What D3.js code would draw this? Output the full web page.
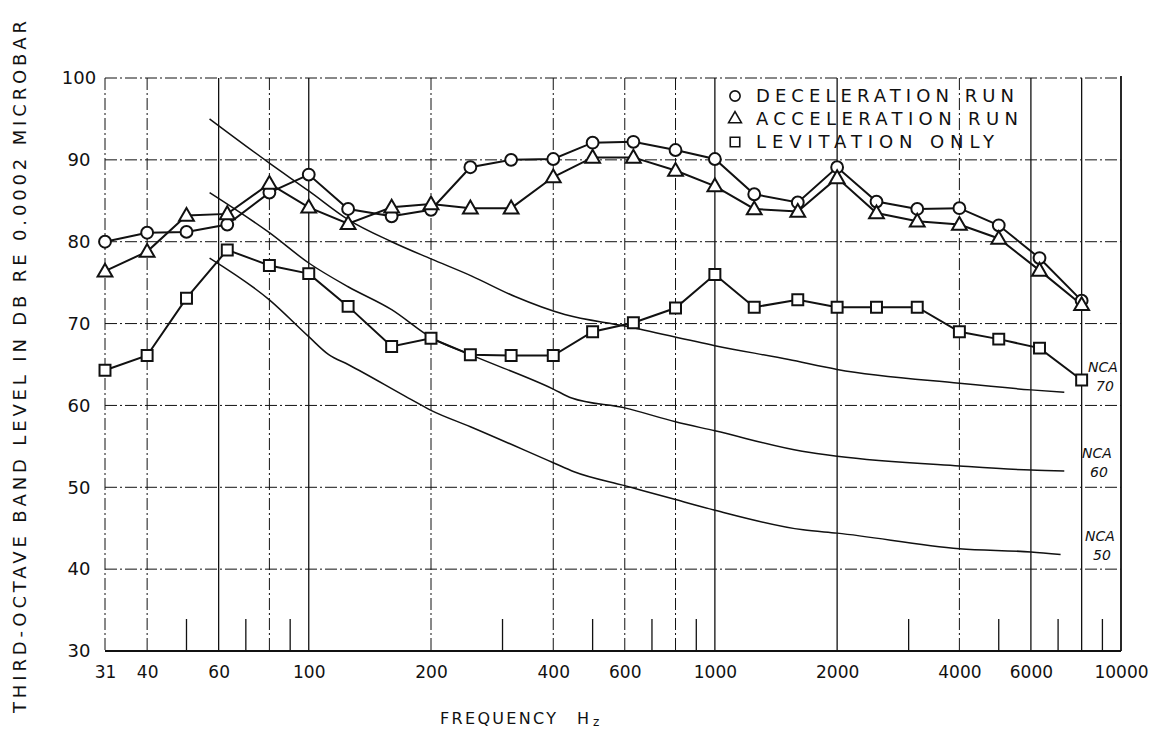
<!DOCTYPE html>
<html><head><meta charset="utf-8">
<script src="https://cdn.jsdelivr.net/npm/d3@7"></script>
<style>
html,body{margin:0;padding:0;background:#fff;}
svg{display:block;}
text{font-family:"DejaVu Sans",sans-serif;fill:#111;}
</style></head><body>
<svg id="chart" width="1168" height="733"></svg>
<script>
// ---------- data ----------
const bands = [31.5,40,50,63,80,100,125,160,200,250,315,400,500,630,800,1000,1250,1600,2000,2500,3150,4000,5000,6300,8000];
const deceleration = [80.0,81.1,81.2,82.1,86.0,88.2,84.0,83.1,83.9,89.1,90.0,90.1,92.1,92.2,91.2,90.1,85.8,84.8,89.1,84.9,84.0,84.1,82.0,78.0,72.8];
const acceleration = [76.4,78.8,83.2,83.4,87.1,84.2,82.2,84.2,84.6,84.1,84.1,87.9,90.3,90.3,88.7,86.8,84.0,83.7,87.8,83.5,82.5,82.1,80.4,76.5,72.3];
const levitation   = [64.3,66.1,73.1,79.0,77.1,76.1,72.1,67.2,68.2,66.2,66.1,66.1,69.0,70.1,71.9,76.0,72.0,72.9,72.0,72.0,72.0,69.0,68.1,67.0,63.1];

const nca70Freq  = [57,80,100,125,160,200,252,322,427,600,1000,1520,2000,4000,6000,7250];
const nca70Level = [95.0,89.6,86.2,82.7,80.0,77.9,75.8,73.3,71.1,69.7,67.3,65.6,64.4,62.7,61.9,61.6];
const nca60Freq  = [57,80,100,125,160,200,250,400,444,600,800,1000,1640,2000,4000,6000,7250];
const nca60Level = [86.0,81.1,77.4,74.5,71.7,68.3,66.2,62.0,60.9,59.7,58.0,56.9,54.4,53.8,52.6,52.1,52.0];
const nca50Freq  = [57,80,100,112,125,176,200,250,400,450,600,800,1000,1650,2000,4000,6000,7100];
const nca50Level = [78.0,72.9,68.4,66.2,65.0,60.9,59.4,57.4,53.0,51.9,50.2,48.5,47.2,44.8,44.4,42.5,42.1,41.8];
const ncaLabels = ["NCA 70","NCA 60","NCA 50"];

const xTickValues = [31.5,40,60,100,200,400,600,1000,2000,4000,6000,10000];
const xTickLabels = ["31","40","60","100","200","400","600","1000","2000","4000","6000","10000"];
const yTickValues = [30,40,50,60,70,80,90,100];
const gridSolidFreq  = [60,100,1000,2000,6000,8000];
const gridDashFreq   = [31.5,40,80,200,400,600,800,4000];
const gridLevels     = [40,50,60,70,80,90,100];
const minorTickFreq  = [50,70,90,300,500,700,900,3000,5000,7000,9000];
const seriesNames = ["DECELERATION  RUN","ACCELERATION  RUN","LEVITATION  ONLY"];

// ---------- scales ----------
const svg = d3.select("#chart");
const x = d3.scaleLog().domain([31.5,10000]).range([105,1121]);
const y = d3.scaleLinear().domain([30,100]).range([651,78]);
const ink = "#111";

// ---------- grid ----------
const g = svg.append("g");
g.selectAll(".hgrid").data(gridLevels).join("line")
  .attr("x1",x(31.5)).attr("x2",x(10000))
  .attr("y1",d=>y(d)).attr("y2",d=>y(d))
  .attr("stroke",ink).attr("stroke-width",1)
  .attr("stroke-dasharray","12,3,2,3");
g.selectAll(".vdash").data(gridDashFreq).join("line")
  .attr("x1",d=>x(d)).attr("x2",d=>x(d))
  .attr("y1",y(100)).attr("y2",y(30))
  .attr("stroke",ink).attr("stroke-width",1)
  .attr("stroke-dasharray","12,3,2,3");
g.selectAll(".vsolid").data(gridSolidFreq).join("line")
  .attr("x1",d=>x(d)).attr("x2",d=>x(d))
  .attr("y1",y(100)).attr("y2",y(30))
  .attr("stroke",ink).attr("stroke-width",1.3);
// right border
g.append("line").attr("x1",x(10000)).attr("x2",x(10000))
  .attr("y1",y(100)-2).attr("y2",y(30))
  .attr("stroke",ink).attr("stroke-width",1.8);
// bottom line
g.append("line").attr("x1",x(31.5)).attr("x2",x(10000))
  .attr("y1",y(30)).attr("y2",y(30))
  .attr("stroke",ink).attr("stroke-width",1.8);
// minor ticks
g.selectAll(".minor").data(minorTickFreq).join("line")
  .attr("x1",d=>x(d)).attr("x2",d=>x(d))
  .attr("y1",y(30)).attr("y2",y(30)-32)
  .attr("stroke",ink).attr("stroke-width",1.3);

// ---------- axes ----------
const xAxis = svg.append("g").attr("transform",`translate(0,${y(30)})`)
  .call(d3.axisBottom(x).tickValues(xTickValues).tickFormat((d,i)=>xTickLabels[i]).tickSize(0).tickPadding(15));
xAxis.select(".domain").remove();
xAxis.selectAll("text").attr("font-size",17).attr("font-family","DejaVu Sans").attr("fill",ink);

const yAxis = svg.append("g").attr("transform","translate(79,0)")
  .call(d3.axisLeft(y).tickValues(yTickValues).tickFormat(d3.format("d")).tickSize(0).tickPadding(0));
yAxis.select(".domain").remove();
yAxis.selectAll("text").attr("font-size",18).attr("font-family","DejaVu Sans")
  .attr("text-anchor","middle").attr("x",0).attr("fill",ink);

// axis titles
svg.append("text").attr("transform","translate(26,367) rotate(-90)")
  .attr("text-anchor","middle").attr("font-size",18)
  .attr("textLength",692).attr("lengthAdjust","spacing")
  .text("THIRD-OCTAVE BAND LEVEL IN DB RE 0.0002 MICROBAR");
const xt = svg.append("text").attr("x",440).attr("y",724).attr("font-size",16);
xt.append("tspan").text("FREQUENCY").attr("textLength",116).attr("lengthAdjust","spacing");
xt.append("tspan").attr("x",577).text("H");
xt.append("tspan").attr("font-size",12).attr("dx",4).attr("dy",2).text("z");

// ---------- NCA curves ----------
const ncaLine = d3.line().x(d=>x(d[0])).y(d=>y(d[1])).curve(d3.curveMonotoneX);
const ncaSets = [
  d3.zip(nca70Freq,nca70Level),
  d3.zip(nca60Freq,nca60Level),
  d3.zip(nca50Freq,nca50Level)
];
svg.append("g").selectAll("path").data(ncaSets).join("path")
  .attr("d",ncaLine).attr("fill","none").attr("stroke",ink).attr("stroke-width",1.5);

const ncaLabelPos = [[1103,372],[1097,458],[1100,541]];
ncaLabels.forEach((lab,i)=>{
  const parts = lab.split(" ");
  const t = svg.append("text").attr("font-size",14).attr("font-style","italic")
    .attr("text-anchor","middle");
  t.append("tspan").attr("x",ncaLabelPos[i][0]).attr("y",ncaLabelPos[i][1]).text(parts[0]);
  t.append("tspan").attr("x",ncaLabelPos[i][0]+2).attr("y",ncaLabelPos[i][1]+19).text(parts[1]);
});

// ---------- data series ----------
const symbols = [d3.symbolCircle, d3.symbolTriangle, d3.symbolSquare];
const sizes = [110, 95, 120];
const series = [deceleration, acceleration, levitation];
const dataLine = d3.line().x((d,i)=>x(bands[i])).y(d=>y(d));
series.forEach((vals,k)=>{
  svg.append("path").attr("d",dataLine(vals)).attr("fill","none")
    .attr("stroke",ink).attr("stroke-width",2);
});
series.forEach((vals,k)=>{
  svg.append("g").selectAll("path").data(vals).join("path")
    .attr("transform",(d,i)=>`translate(${x(bands[i])},${y(d) + (k===1?1:0)})`)
    .attr("d",d3.symbol().type(symbols[k]).size(sizes[k]))
    .attr("fill","#fff").attr("stroke",ink).attr("stroke-width",2);
});

// ---------- legend ----------
const legY = [96,119,142];
seriesNames.forEach((name,k)=>{
  svg.append("path").attr("transform",`translate(735,${legY[k]})`)
    .attr("d",d3.symbol().type(symbols[k]).size(sizes[k]*0.75))
    .attr("fill","#fff").attr("stroke",ink).attr("stroke-width",1.6);
  svg.append("text").attr("x",756).attr("y",legY[k]).attr("dy","0.36em")
    .attr("font-size",18)
    .attr("textLength",k===2?238:k===1?262:258).attr("lengthAdjust","spacing")
    .text(name);
});
</script>
</body></html>
